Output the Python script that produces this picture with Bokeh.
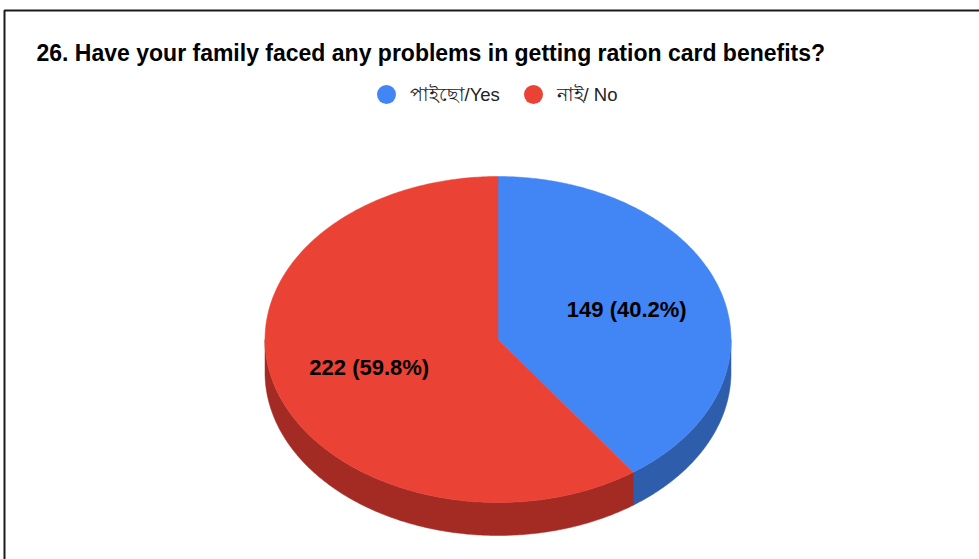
import numpy as np
from bokeh.plotting import figure
from bokeh.models import Range1d
from bokeh.core.properties import value
from bokeh.embed import file_html
from bokeh.resources import INLINE

# ---- data ----
title_text = "26. Have your family faced any problems in getting ration card benefits?"
categories = ["পাইছো/Yes", "নাই/ No"]
counts = [149, 222]
top_colors = ["#4285F4", "#EA4335"]
side_colors = ["#2E5DAC", "#A42B24"]

W, H = 979, 559
p = figure(width=W, height=H, output_backend="svg", toolbar_location=None,
           x_range=Range1d(0, W), y_range=Range1d(H, 0),
           min_border=0, min_border_left=0, min_border_right=0,
           min_border_top=0, min_border_bottom=0)
p.axis.visible = False
p.grid.visible = False
p.outline_line_color = None
p.background_fill_color = "white"
p.border_fill_color = "white"

# frame border (decoration)
p.line(x=[4, 4, W + 5], y=[H + 5, 10, 10], line_color="#1a1a1a", line_width=2)

# pie geometry
cx, cy = 497.5, 339.0
rx, ry = 233.0, 163.0
depth = 33.0

total = float(sum(counts))
fracs = [c / total for c in counts]
starts = np.cumsum([0.0] + fracs[:-1]) * 2 * np.pi  # clockwise from top
ends = starts + np.array(fracs) * 2 * np.pi


def pt(theta):
    return cx + rx * np.sin(theta), cy - ry * np.cos(theta)


# side walls (visible front half: theta in [pi/2, 3pi/2])
for a0, a1, col in zip(starts, ends, side_colors):
    lo, hi = max(a0, np.pi / 2), min(a1, 3 * np.pi / 2)
    if hi <= lo:
        continue
    th = np.linspace(lo, hi, 200)
    xs, ys = pt(th)
    px = np.concatenate([xs, xs[::-1]])
    py = np.concatenate([ys, ys[::-1] + depth])
    p.patch(px, py, fill_color=col, line_color=col, line_width=0.5)

# top faces
for a0, a1, col in zip(starts, ends, top_colors):
    th = np.linspace(a0, a1, 300)
    xs, ys = pt(th)
    px = np.concatenate([[cx], xs])
    py = np.concatenate([[cy], ys])
    p.patch(px, py, fill_color=col, line_color=col, line_width=0.5)

# slice labels
lab_x, lab_y, lab_t = [], [], []
for a0, a1, c, f in zip(starts, ends, counts, fracs):
    mid = (a0 + a1) / 2
    lx, ly = cx + 0.58 * rx * np.sin(mid), cy - 0.58 * ry * np.cos(mid)
    lab_x.append(lx)
    lab_y.append(ly - 1)
    lab_t.append(f"{c} ({f * 100:.1f}%)")
p.text(x=lab_x, y=lab_y, text=lab_t, text_align="center", text_baseline="middle",
       text_font=value("Liberation Sans"), text_font_style="bold",
       text_font_size="22px", text_color="#000000")

# title
p.text(x=[36], y=[52], text=[title_text], text_align="left", text_baseline="middle",
       text_font=value("Liberation Sans"), text_font_style="bold",
       text_font_size="23px", text_color="#000000")

# legend
leg_x = [386, 533]
leg_y = [94, 94]
p.scatter(x=leg_x, y=leg_y, size=19, marker="circle", fill_color=top_colors, line_color=None)
p.text(x=[x + 23 for x in leg_x], y=leg_y, text=categories, text_align="left",
       text_baseline="middle", text_font=value("Liberation Sans"),
       text_font_size="18.5px", text_color="#222222")

open("out.html", "w").write(file_html(p, INLINE))
